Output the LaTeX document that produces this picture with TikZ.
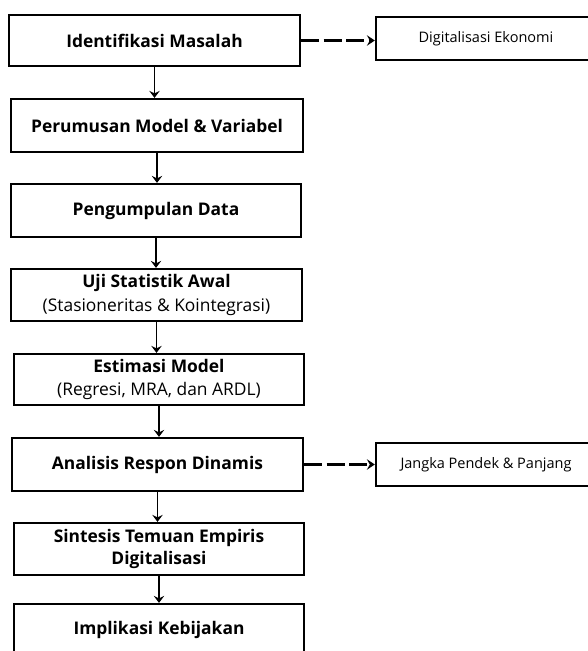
\documentclass[tikz,border=0pt]{standalone}
\usepackage{fontspec}
\setmainfont{Open Sans}
\usetikzlibrary{arrows.meta}
\begin{document}
\begin{tikzpicture}[x=1pt,y=-1pt,
  stepbox/.style={draw=black, line width=2.3pt, inner sep=0pt, align=center,
    font=\fontsize{17.4}{23.5}\selectfont\bfseries},
  sidebox/.style={draw=black, line width=2.3pt, inner sep=0pt, align=center,
    minimum width=220pt, minimum height=43pt, font=\fontsize{14.5}{18}\selectfont},
  arr/.style={line width=1.9pt, -{Stealth[length=7pt,width=10.5pt,inset=2.5pt]}},
  darr/.style={line width=3pt, dash pattern=on 18pt off 4.5pt, -{Stealth[length=8pt,width=10.5pt,inset=3pt]}}
]
\clip (0,0) rectangle (588,651);
\fill[white] (0,0) rectangle (588,651);
\node[stepbox, minimum width=291pt, minimum height=51pt] (b1) at (154.5,40.5) {Identifikasi Masalah};
\node[stepbox, minimum width=292pt, minimum height=53pt] (b2) at (157,125.5) {Perumusan Model \& Variabel};
\node[stepbox, minimum width=290pt, minimum height=53pt] (b3) at (156,210.5) {Pengumpulan Data};
\node[stepbox, minimum width=291pt, minimum height=52pt] (b4) at (156.5,295) {Uji Statistik Awal\\{\mdseries (Stasioneritas \& Kointegrasi)}};
\node[stepbox, minimum width=290pt, minimum height=51pt] (b5) at (159,379.5) {Estimasi Model\\{\mdseries (Regresi, MRA, dan ARDL)}};
\node[stepbox, minimum width=291pt, minimum height=53pt] (b6) at (157.5,464.5) {Analisis Respon Dinamis};
\node[stepbox, minimum width=290pt, minimum height=52pt, font=\fontsize{17.4}{22}\selectfont\bfseries] (b7) at (159,549) {Sintesis Temuan Empiris\\Digitalisasi};
\node[stepbox, minimum width=290pt, minimum height=52pt] (b8) at (159,630) {Implikasi Kebijakan};
\node[sidebox] (r1) at (486,38.5) {Digitalisasi Ekonomi};
\node[sidebox] (r2) at (486,464.5) {Jangka Pendek \& Panjang};
\foreach \a/\b in {b1/b2,b2/b3,b3/b4,b4/b5,b5/b6,b6/b7,b7/b8}
  \draw[arr] (\a.south) -- (\a.south |- \b.north);
\draw[darr] (b1.east) -- (b1.east -| r1.west);
\draw[darr] (b6.east) -- (b6.east -| r2.west);
\end{tikzpicture}
\end{document}
